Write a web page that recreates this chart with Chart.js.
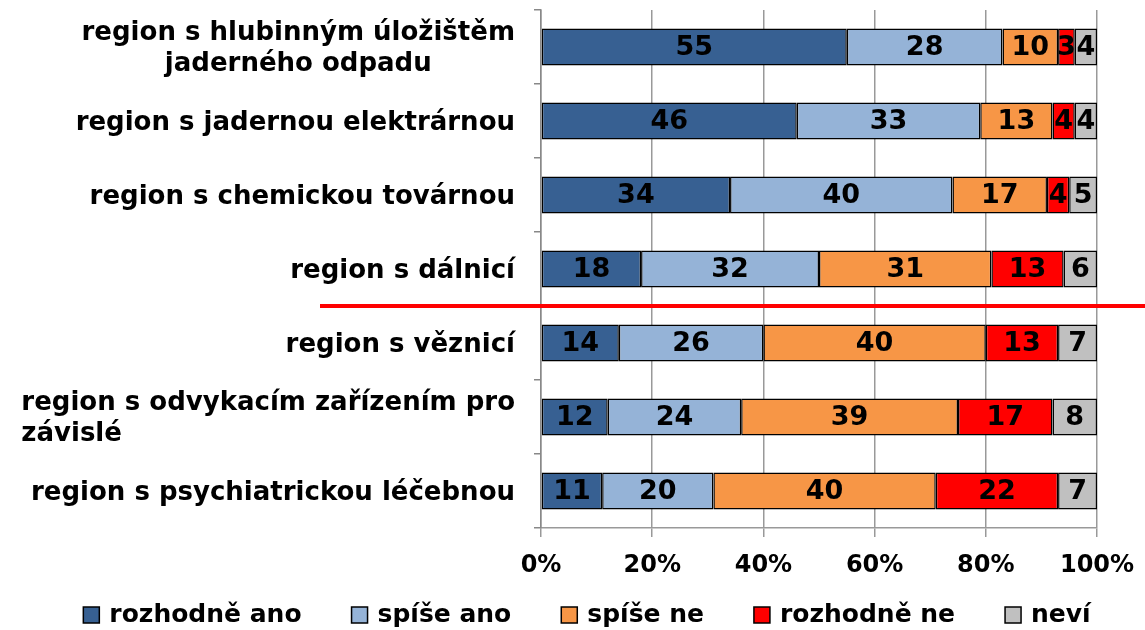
<!DOCTYPE html>
<html>
<head>
<meta charset="utf-8">
<script src="https://cdn.jsdelivr.net/npm/chart.js@4/dist/chart.umd.min.js"></script>
<style>
    html, body { margin: 0; padding: 0; background: #fff; }
    #wrap { width: 1145px; height: 630px; }
</style>
</head>
<body>
<div id="wrap"><canvas id="chart" width="1145" height="630"></canvas></div>
<script>
const categories = [
    ['region s hlubinným úložištěm', 'jaderného odpadu'],
    'region s jadernou elektrárnou',
    'region s chemickou továrnou',
    'region s dálnicí',
    'region s věznicí',
    ['region s odvykacím zařízením pro', 'závislé'],
    'region s psychiatrickou léčebnou'
];
const seriesNames = ['rozhodně ano', 'spíše ano', 'spíše ne', 'rozhodně ne', 'neví'];
const rozhodneAno = [55, 46, 34, 18, 14, 12, 11];
const spiseAno = [28, 33, 40, 32, 26, 24, 20];
const spiseNe = [10, 13, 17, 31, 40, 39, 40];
const rozhodneNe = [3, 4, 4, 13, 13, 17, 22];
const nevi = [4, 4, 5, 6, 7, 8, 7];
const tickLabels = ['0%', '20%', '40%', '60%', '80%', '100%'];

const colors = ['#376092', '#95b3d7', '#f79646', '#ff0000', '#c0c0c0'];
const FONT = '"DejaVu Sans", Verdana, sans-serif';

// how the wrapped second line sits under the first one
const wrapAlign = { 0: 'center', 5: 'left' };

const ctx = document.getElementById('chart').getContext('2d');

const labelsPlugin = {
    id: 'labelsPlugin',
    afterDatasetsDraw(chart) {
        const c = chart.ctx;
        c.save();
        c.font = 'bold 27px ' + FONT;
        c.fillStyle = '#000';
        c.textAlign = 'center';
        c.textBaseline = 'middle';
        chart.data.datasets.forEach((ds, di) => {
            chart.getDatasetMeta(di).data.forEach((el, i) => {
                c.fillText(String(ds.data[i]), (el.x + el.base) / 2, el.y + 1);
            });
        });
        c.restore();
    },
    afterDraw(chart) {
        const c = chart.ctx;
        const y = chart.scales.y;
        c.save();
        // category labels
        c.font = 'bold 26px ' + FONT;
        c.fillStyle = '#000';
        c.textAlign = 'left';
        c.textBaseline = 'middle';
        const right = chart.chartArea.left - 26;
        const lh = 31;
        categories.forEach((lab, i) => {
            const lines = Array.isArray(lab) ? lab : [lab];
            const widths = lines.map(l => c.measureText(l).width);
            const blockW = Math.max(...widths);
            const top = y.getPixelForValue(i) - (lines.length - 1) * lh / 2;
            lines.forEach((l, j) => {
                const align = j === 0 ? 'right' : (wrapAlign[i] || 'right');
                let x = right - widths[j];
                if (align === 'center') x = right - blockW / 2 - widths[j] / 2;
                if (align === 'left') x = right - blockW;
                c.fillText(l, x, top + j * lh + 2);
            });
        });

        // red separator between the two groups
        const ly = (y.getPixelForValue(3) + y.getPixelForValue(4)) / 2;
        c.strokeStyle = '#ff0000';
        c.lineWidth = 4;
        c.beginPath();
        c.moveTo(320, ly);
        c.lineTo(chart.width, ly);
        c.stroke();

        // legend
        c.font = 'bold 25px ' + FONT;
        const box = 16, boxGap = 10, gap = 50, legY = 615;
        const itemW = seriesNames.map(n => box + boxGap + c.measureText(n).width);
        const total = itemW.reduce((a, b) => a + b, 0) + gap * (itemW.length - 1);
        let x = 587 - total / 2;
        seriesNames.forEach((n, i) => {
            c.fillStyle = colors[i];
            c.fillRect(x, legY - box / 2, box, box);
            c.strokeStyle = '#000';
            c.lineWidth = 1.5;
            c.strokeRect(x, legY - box / 2, box, box);
            c.fillStyle = '#000';
            c.fillText(n, x + box + boxGap, legY);
            x += itemW[i] + gap;
        });
        c.restore();
    }
};

const chart = new Chart(ctx, {
    type: 'bar',
    data: {
        labels: categories,
        datasets: [rozhodneAno, spiseAno, spiseNe, rozhodneNe, nevi].map((data, i) => ({
            label: seriesNames[i],
            data: data,
            backgroundColor: colors[i],
            borderColor: '#000',
            borderWidth: 1.5,
            borderSkipped: false,
            barPercentage: 0.5,
            categoryPercentage: 1
        }))
    },
    options: {
        indexAxis: 'y',
        responsive: false,
        animation: false,
        layout: { padding: { top: 10, right: 48, left: 0, bottom: 48 } },
        scales: {
            x: {
                stacked: true,
                min: 0,
                max: 100,
                ticks: {
                    stepSize: 20,
                    padding: 14,
                    color: '#000',
                    font: { family: FONT, size: 24, weight: 'bold' },
                    callback: (v, i) => tickLabels[i]
                },
                grid: { color: '#999', lineWidth: 1.5, tickLength: 9 },
                border: { color: '#999', width: 1.5 },
                afterFit: (scale) => {
                    scale.height = 54;
                    scale.paddingLeft = 0;
                    scale.paddingRight = 0;
                }
            },
            y: {
                stacked: true,
                ticks: { display: false },
                grid: { offset: true, drawOnChartArea: false, color: '#888', lineWidth: 1.5, tickLength: 7 },
                border: { color: '#888', width: 1.5 },
                afterFit: (scale) => { scale.width = 541; }
            }
        },
        plugins: {
            legend: { display: false },
            tooltip: { enabled: false }
        }
    },
    plugins: [labelsPlugin]
});
</script>
</body>
</html>
